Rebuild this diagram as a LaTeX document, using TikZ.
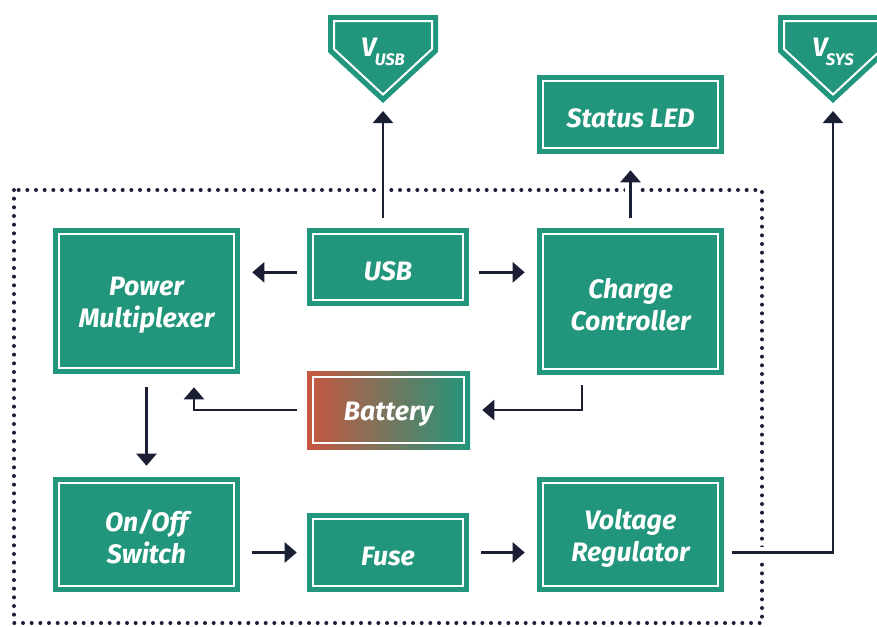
\documentclass[tikz,border=0pt]{standalone}
\usepackage{fontspec}
\setmainfont{Fira Sans}
\usetikzlibrary{arrows.meta}
\definecolor{boxgreen}{RGB}{34,150,124}
\definecolor{batred}{RGB}{200,86,64}
\definecolor{wirenavy}{RGB}{27,31,52}
\newcommand{\topstrut}{\rule{0pt}{20.5pt}}

\begin{document}
\begin{tikzpicture}[x=0.75pt, y=-0.75pt,
    block/.style={fill=boxgreen, text=white, align=center, inner sep=0pt,
      font=\fontsize{20}{24}\selectfont\bfseries\itshape,
      path picture={\draw[white, line width=1.5pt]
        ([shift={(4.5pt,-4.5pt)}]path picture bounding box.north west) rectangle
        ([shift={(-4.5pt,4.5pt)}]path picture bounding box.south east);}},
    vlabel/.style={text=white, inner sep=0pt, font=\fontsize{20}{24}\selectfont\bfseries\itshape},
    wire/.style={wirenavy, line width=1.8pt, -{Triangle[width=15pt, length=9pt]}},
    gap/.style={preaction={draw=white, line width=8pt, -}},
    dotframe/.style={wirenavy, line width=3pt, line cap=round, dash pattern=on 0pt off 6.5pt}]
    \useasboundingbox (0,0) rectangle (877,626);
    \draw[dotframe] (14,190) rectangle (762,623);

    % output pins
    \foreach \cx/\lab/\name in {383/USB/vusb, 833/SYS/vsys} {
      \fill[boxgreen] (\cx-55,15) -- (\cx+55,15) -- (\cx+55,52) -- (\cx,103) -- (\cx-55,52) -- cycle;
      \draw[white, line width=1.5pt] (\cx-49,21) -- (\cx+49,21) -- (\cx+49,49) -- (\cx,94.5) -- (\cx-49,49) -- cycle;
      \node[vlabel] (\name-lab) at (\cx,52) {V\kern-1pt\raisebox{-6.5pt}{\fontsize{12.5}{14}\selectfont\lab}};
      \coordinate (\name) at (\cx,111);
    }

    \node[block, minimum width=140.25pt, minimum height=109.5pt] (pmux) at (146.5,301) {\topstrut Power\\Multiplexer};
    \node[block, minimum width=121.5pt, minimum height=58.5pt] (usb) at (388,267) {\topstrut USB};
    \node[block, minimum width=140.25pt, minimum height=110.25pt] (charge) at (630.5,301.5) {\topstrut Charge\\Controller};
    \node[block, minimum width=140.25pt, minimum height=59.25pt] (led) at (630.5,114.5) {\topstrut Status LED};
    \node[block, minimum width=122.25pt, minimum height=58.5pt, left color=batred, right color=boxgreen] (batt) at (388.5,410) {\topstrut Battery};
    \node[block, minimum width=140.25pt, minimum height=86.25pt] (switch) at (146.5,534.5) {\topstrut On/Off\\Switch};
    \node[block, minimum width=121.5pt, minimum height=59.25pt] (fuse) at (388,552.5) {\topstrut Fuse};
    \node[block, minimum width=140.25pt, minimum height=86.25pt] (vreg) at (630.5,534.5) {\topstrut Voltage\\Regulator};

    \draw[wire] ([shift={(-7.5pt,-4pt)}]usb.west) -- ([shift={(9pt,-4pt)}]pmux.east |- usb.west);
    \draw[wire] ([shift={(7.5pt,-4pt)}]usb.east) -- ([shift={(-9pt,-4pt)}]charge.west |- usb.east);
    \draw[wire, gap] ([yshift=7.5pt]usb.north -| vusb) -- (vusb);
    \draw[wire, gap] ([yshift=7.5pt]charge.north) -- ([yshift=-12pt]led.south);
    \draw[wire] ([shift={(-36.4pt,-7.5pt)}]charge.south) |- ([xshift=9pt]batt.east);
    \draw[wire] ([xshift=-7.5pt]batt.west) -| ([shift={(35.6pt,-9.75pt)}]pmux.south);
    \draw[wire] ([yshift=-9.75pt]pmux.south) -- ([yshift=8.25pt]switch.north);
    \draw[wire] ([xshift=9pt]switch.east |- fuse.west) -- ([xshift=-7.5pt]fuse.west);
    \draw[wire] ([xshift=9pt]fuse.east) -- ([xshift=-9pt]vreg.west |- fuse.east);
    \draw[wire, gap] ([xshift=6pt]vreg.east |- fuse.east) -| (vsys);
  \end{tikzpicture}
\end{document}
